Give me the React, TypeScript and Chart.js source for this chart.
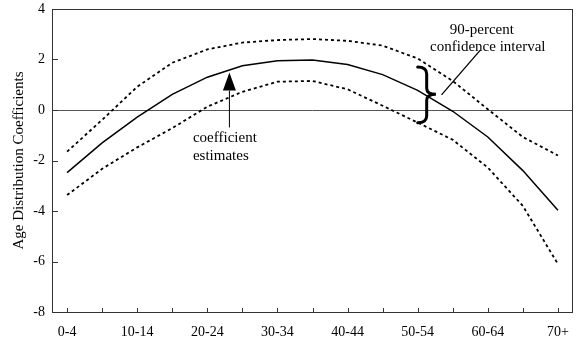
import React, { useEffect, useRef } from "react";
import { Chart, registerables } from "chart.js";

Chart.register(...registerables);

const ageGroups = ["0-4", "5-9", "10-14", "15-19", "20-24", "25-29", "30-34", "35-39", "40-44", "45-49", "50-54", "55-59", "60-64", "65-69", "70+"];
const estimates = [-2.48, -1.3, -0.28, 0.62, 1.3, 1.75, 1.95, 1.98, 1.8, 1.4, 0.78, -0.05, -1.07, -2.4, -3.97];
const upper90 = [-1.65, -0.39, 0.92, 1.87, 2.4, 2.67, 2.77, 2.81, 2.74, 2.55, 2.04, 1.15, 0.03, -1.07, -1.8];
const lower90 = [-3.37, -2.33, -1.48, -0.72, 0.13, 0.72, 1.12, 1.15, 0.82, 0.17, -0.5, -1.18, -2.28, -3.8, -6.1];
const yTicks = [-8, -6, -4, -2, 0, 2, 4];

const yTitle = "Age Distribution Coefficients";
const estLabel = ["coefficient", "estimates"];
const ciLabel = ["90-percent", "confidence interval"];

const FONT = '"Liberation Serif", "Times New Roman", serif';

export default function App() {
  const ref = useRef<HTMLCanvasElement>(null);

  useEffect(() => {
    const canvas = ref.current!;
    const toXY = (arr: number[]) => arr.map((y, i) => ({ x: i, y }));

    const annot = {
      id: "annot",
      afterDraw(chart: any) {
        const { ctx, chartArea: a, scales } = chart;
        const xs = scales.x;
        const ys = scales.y;
        const X = (v: number) => xs.getPixelForValue(v);
        const Y = (v: number) => ys.getPixelForValue(v);
        ctx.save();
        // frame
        ctx.strokeStyle = "#333";
        ctx.lineWidth = 1;
        ctx.strokeRect(Math.round(a.left) + 0.5, Math.round(a.top) + 0.5, Math.round(a.right - a.left) - 1, Math.round(a.bottom - a.top));
        // inside ticks
        ctx.beginPath();
        yTicks.forEach((v) => {
          const y = Math.round(Y(v)) + 0.5;
          ctx.moveTo(a.left, y);
          ctx.lineTo(a.left + 6, y);
        });
        ageGroups.forEach((_, i) => {
          const x = Math.round(X(i)) + 0.5;
          ctx.moveTo(x, a.bottom);
          ctx.lineTo(x, a.bottom - 4);
        });
        ctx.stroke();

        ctx.fillStyle = "#000";
        ctx.strokeStyle = "#000";
        // arrow for coefficient estimates
        const ax = X(4.63);
        ctx.lineWidth = 1;
        ctx.beginPath();
        ctx.moveTo(ax, Y(0.77));
        ctx.lineTo(ax, Y(-0.69));
        ctx.stroke();
        ctx.beginPath();
        ctx.moveTo(ax, Y(1.49));
        ctx.lineTo(ax - 6.5, Y(0.77));
        ctx.lineTo(ax + 6.5, Y(0.77));
        ctx.closePath();
        ctx.fill();

        ctx.font = `15px ${FONT}`;
        ctx.textBaseline = "middle";
        ctx.textAlign = "left";
        ctx.fillText(estLabel[0], X(3.59), Y(-1.13));
        ctx.fillText(estLabel[1], X(3.59), Y(-1.84));

        ctx.textAlign = "center";
        ctx.fillText(ciLabel[0], X(11.83), Y(3.18));
        ctx.fillText(ciLabel[1], X(12.0), Y(2.49));

        // pointer line
        ctx.lineWidth = 1.3;
        ctx.beginPath();
        ctx.moveTo(X(10.68), Y(0.6));
        ctx.lineTo(X(11.78), Y(2.36));
        ctx.stroke();

        // brace
        const top = Y(1.7);
        const bot = Y(-0.5);
        const mid = Y(0.62);
        const xl = X(10.0);
        const xt = X(10.52);
        const xm = xl + 9;
        ctx.lineWidth = 3;
        ctx.lineCap = "round";
        ctx.beginPath();
        ctx.moveTo(xl, top);
        ctx.quadraticCurveTo(xm, top, xm, top + 7);
        ctx.lineTo(xm, mid - 6);
        ctx.quadraticCurveTo(xm, mid, xt, mid);
        ctx.quadraticCurveTo(xm, mid, xm, mid + 6);
        ctx.lineTo(xm, bot - 7);
        ctx.quadraticCurveTo(xm, bot, xl, bot);
        ctx.stroke();
        ctx.restore();
      },
    };

    const chart = new Chart(canvas, {
      type: "line",
      data: {
        datasets: [
          { data: toXY(upper90), borderColor: "#000", borderWidth: 1.8, borderDash: [3, 3], pointRadius: 0, fill: false },
          { data: toXY(estimates), borderColor: "#000", borderWidth: 1.5, pointRadius: 0, fill: false },
          { data: toXY(lower90), borderColor: "#000", borderWidth: 1.8, borderDash: [3, 3], pointRadius: 0, fill: false },
        ],
      },
      options: {
        responsive: false,
        animation: false,
        layout: { padding: { top: 9, right: 6, left: 0, bottom: 0 } },
        plugins: { legend: { display: false }, tooltip: { enabled: false } },
        scales: {
          x: {
            type: "linear",
            min: -0.43,
            max: 14.43,
            grid: { display: false },
            border: { display: false },
            afterBuildTicks: (s: any) => {
              s.ticks = ageGroups.map((_, i) => ({ value: i }));
            },
            afterFit: (s: any) => {
              s.height = 30;
              s.paddingLeft = 0;
              s.paddingRight = 0;
            },
            ticks: {
              autoSkip: false,
              maxRotation: 0,
              padding: 4,
              color: "#000",
              font: { family: FONT, size: 14 },
              callback: (v: any) => (Number(v) % 2 === 0 ? ageGroups[Number(v)] : ""),
            },
          },
          y: {
            min: -8,
            max: 4,
            afterBuildTicks: (s: any) => {
              s.ticks = yTicks.map((v) => ({ value: v }));
            },
            afterFit: (s: any) => {
              s.width = 52;
              s.paddingTop = 0;
              s.paddingBottom = 0;
            },
            grid: {
              drawTicks: false,
              lineWidth: 1,
              color: (c: any) => (c.tick && c.tick.value === 0 ? "#555" : "rgba(0,0,0,0)"),
            },
            border: { display: false },
            ticks: { padding: 7, color: "#000", font: { family: FONT, size: 14 } },
            title: {
              display: true,
              text: yTitle,
              color: "#000",
              font: { family: FONT, size: 15 },
              padding: { top: 10, bottom: 0 },
            },
          },
        },
      },
      plugins: [annot],
    });
    return () => chart.destroy();
  }, []);

  return (
    <div style={{ position: "absolute", left: 0, top: 0, width: 579, height: 342, background: "#fff" }}>
      <canvas ref={ref} width={579} height={342} style={{ display: "block" }} />
    </div>
  );
}
